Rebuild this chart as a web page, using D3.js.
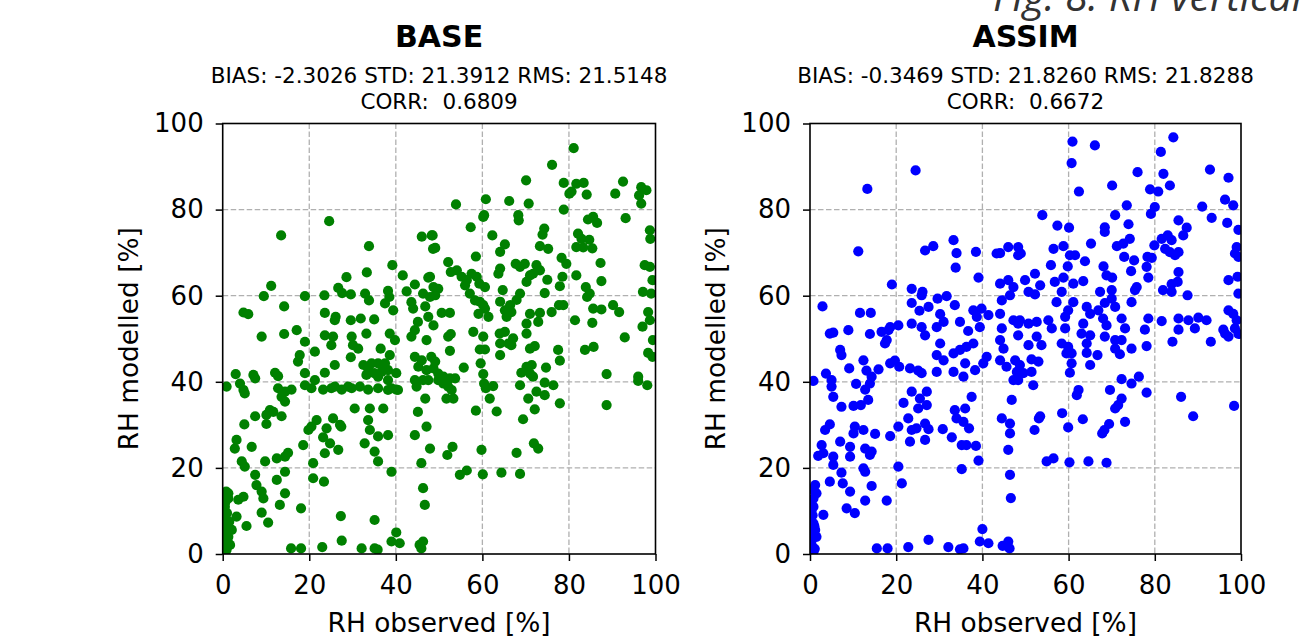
<!DOCTYPE html>
<html>
<head>
<meta charset="utf-8">
<script src="https://cdn.jsdelivr.net/npm/d3@7"></script>
<style>
  body { margin: 0; background: #fff; }
  svg { display: block; }
  text { font-family: "DejaVu Sans", sans-serif; }
</style>
</head>
<body>
<svg id="chart"></svg>
<script>
// axis ticks shared by both panels
const axisTicks = [0, 20, 40, 60, 80, 100];

const panelTitles = ["BASE", "ASSIM"];
const panelStats = [
  ["BIAS: -2.3026 STD: 21.3912 RMS: 21.5148", "CORR:  0.6809"],
  ["BIAS: -0.3469 STD: 21.8260 RMS: 21.8288", "CORR:  0.6672"]
];
const panelColors = ["#008000", "#0000ff"];

// [RH observed, RH modelled] pairs
const basePoints = [
  [24.6,77.3],[13.5,74],[33.8,71.5],[39.2,67.1],[33.3,65.4],[28.6,64.3],[41.6,64.7],[46,73.7],[48.3,74],[48.6,70.9],
  [47.5,64.2],[44.4,62.6],[11.2,62.3],[9.5,59.9],[19,59.9],[23.5,60.1],[26.7,61.8],[27.6,60.6],[29.6,60.3],[32.9,60.5],
  [33.8,58.9],[38.2,61.1],[38.5,59.7],[14.2,57.5],[4.8,56.1],[5.9,55.7],[23.6,56],[26.1,55.1],[25.9,54.3],[29.6,54.3],
  [31.9,54.7],[35,54.5],[37.5,58.2],[39.4,56.6],[43.6,58.5],[44,57],[45.1,53.9],[46.3,60.5],[47.5,55.1],[42.5,61],[46.8,57.5],
  [81.1,94.3],[76.1,90.4],[70.1,86.8],[78.8,86.2],[81.7,86],[83.4,86.2],[80.1,83.7],[80.6,84.2],[84.1,83.5],[92.5,86.5],
  [90.7,83.7],[96.7,85.2],[97.9,84.5],[96.2,83.3],[96.7,81.4],[53.9,81.2],[60.8,82.4],[66.2,82],[70.7,81.4],[78.8,80],
  [60.4,78.7],[60.2,78.3],[68.3,78.7],[68.4,77.5],[57.3,75.9],[84.4,77.7],[85.6,78.3],[86.5,76.9],[93.1,78],[48.5,74],
  [49.1,71.1],[62.3,74],[74.3,75.6],[73.9,74.2],[65.2,71.9],[64.1,70.2],[73.3,71.5],[75.2,70.9],[82.1,74.4],[82.9,73.2],
  [84.7,73],[81.7,71.3],[83.3,71.2],[85.4,71],[98.7,75.2],[98.8,73.2],[58.5,69.1],[52.1,67.8],[52.7,65.5],[54.1,65.9],
  [55.2,64.4],[56.4,63.6],[57.5,65.1],[56,62.4],[58.7,64.4],[59.3,62.8],[60.6,62],[57.1,60.5],[58.3,58.9],[64.1,66.3],
  [63.7,65.1],[64.7,61.3],[67.7,67.4],[68.7,66.7],[69.8,67.4],[70.2,63.2],[71,64.7],[72.5,67.1],[73.3,65.9],[71.7,65.1],
  [75,63.7],[78.3,68.8],[79.4,67.4],[78.5,64.4],[77.9,62.2],[81.7,64.7],[83.9,62],[84.8,60.5],[84.2,59.7],[87.3,67.6],
  [87.5,63.4],[97.5,67.1],[98.7,66.7],[99.3,63.6],[97.1,60.9],[99,60.5],[47.9,64.4],[48.7,62],[49.8,61.6],[47.9,59.7],
  [49.1,60.1],[59.4,58.6],[60.6,57],[59.1,55.8],[61.4,55.1],[60.2,57.8],[64.1,58.6],[65.2,56.6],[66.4,57.8],[67.9,59],
  [68.7,60.5],[66.7,56.2],[65.6,55.1],[71,55.8],[73.3,56],[70.2,53.5],[72.9,53.9],[74.4,60.6],[76,56.2],[77.7,57.8],
  [78.7,57.8],[50.6,56],[52.5,56],[81.4,54.3],[85.4,53.7],[85.6,57],[87.5,56.8],[90.2,57.8],[91.6,56.2],[97,52.8],
  [98.3,56.2],[98.7,54.3],[48.7,53.1],
  [52.1,50.5],[52.7,51.1],[57.9,51.6],[60.2,50.5],[59.4,47.5],[60.6,47.5],[64,51.2],[65.2,51.6],[64.1,48.9],[66,48.9],
  [67.1,50.1],[66.7,48.5],[64.1,46.2],[70.2,51.2],[71,47.7],[72.1,48.3],[77.5,47.4],[77.9,44.9],[83.7,47.4],[85.7,48.1],
  [92.9,50.3],[99.4,49.7],[98.3,46.7],[99.3,45.8],[52.5,47.2],[49.1,44.7],[48.7,43.1],[49.8,41.9],[51,41.2],[49.8,40.4],
  [52.5,40.8],[53.7,40.8],[51,39.6],[52.1,38.9],[52.9,38.1],[51.7,36.1],[53.3,36.1],[55.7,43.3],[59.6,44.3],[60.2,41.8],
  [60.4,39.6],[60.8,38.5],[61.7,36.1],[62.5,39],[58.5,33.3],[63.3,33.1],[69,42.1],[70.2,43.5],[71.4,43.9],[71,41.9],
  [71.7,41.2],[74.7,43.3],[68.7,39.2],[74.4,39.8],[76.4,39.2],[72.5,37.7],[74.4,36.9],[70.6,36.1],[77.9,35],[72.1,33.6],
  [69.4,31.3],[88.7,41.8],[88.7,34.6],[96,41.2],[96,40.2],[98.1,39.2],[47.9,24.5],[53.1,24.9],[51.9,23],[59.8,24.2],
  [67.9,23.5],[71.9,25.7],[72.9,24.5],[54.8,18.4],[56.4,19.4],[60.1,18.5],[64.4,18.9],[68.7,18.6],
  [9,50.5],[14.2,51.1],[17.1,52],[19,49.3],[21.3,47],[17.8,46.2],[17.4,44.7],[19,42],[23.6,50.8],[25.5,50.5],
  [25.1,48.5],[29.8,50.5],[30.1,48.5],[31.3,47.7],[33.2,51.2],[29.6,45.7],[36.5,47.7],[37.5,44.3],[38.6,46.2],[35.9,44.3],
  [39.8,49.7],[38.6,51.2],[25.9,43.9],[23.6,42.1],[32.5,43.9],[33.6,43.1],[34.4,44.3],[35,42],[36.7,42.3],[38.2,42.7],
  [40.1,42],[33.2,41.6],[35.9,41.2],[38.2,40.4],[39,38.5],[40.5,38.1],[44.4,45.8],[46,45],[45.2,43.5],[47.1,42.7],
  [44.4,40.4],[46.3,40.4],[44.8,38.9],[47.5,40.4],[48.2,45.8],[43.6,50.5],[47.1,49.7],[44.4,52],[3,41.8],[7.1,41.6],
  [7.5,40.8],[12.1,42.1],[12.8,41.3],[0.9,38.9],[4,39.6],[5.1,37.3],[4.8,38.1],[12.8,38.5],[14.4,37.7],[15.9,38.2],
  [13.6,36.5],[14.4,35.4],[19,39.2],[20.5,38.5],[21.3,40.4],[23.2,38.2],[25.1,38.5],[25.9,38.9],[27.5,38.2],[29,38.9],
  [29.8,38.5],[31.7,38.9],[33.6,38.2],[35.9,38.5],[38.2,38.1],[40.1,38.2],[46.8,36.1],[45.1,33],[47.1,29.6],[44.4,27.6],
  [30.5,33.8],[34,33.8],[37.1,33.8],[7.5,32],[10.9,33.4],[11.7,33],[10.1,32.3],[13.6,32],[10.1,30.2],[5,30.1],
  [21.7,31.1],[20.5,29.6],[19.8,28.8],[24,29.2],[23.2,27.1],[25.5,31.5],[27.1,30],[27.4,29.6],[24.8,25.7],[26.7,24.2],
  [23.6,23.4],[33.6,31.1],[34,28.8],[35.9,27.3],[38.2,27.6],[32.8,25.7],[35.1,23.8],[35.9,21.5],[3.2,26.5],[2.8,24.5],
  [6.7,24.9],[9.8,21.5],[12.5,22.2],[14.4,22.6],[15.1,23.5],[18.6,25.3],[4.4,21.5],[5.1,20.3],[7.5,18.4],[7.8,16],
  [9,14.5],[9.4,12.9],[12.5,17.2],[14.4,19.1],[14.4,14.1],[20.9,21.1],[20.9,17.6],[23.4,16.8],[39,19.1],[46.3,15.3],
  [46.7,11.4],[45.9,21.1],[1.3,14.1],[1.3,12.9],[4.8,13.3],[3.6,12.6],[3.2,8.7],[5.5,6.5],[9,9.6],[10.5,7.3],
  [13.2,11.4],[18.1,10.6],[27.3,8.8],[35.1,7.9],[0.5,8.7],[0.9,6.4],[1.3,4],[1.7,2.1],[0.5,2.5],[0.9,1],
  [2.1,5.6],[0.5,11],[0.3,13.5],[0.6,12],[0.2,10],[1,9.5],[0.4,7.5],[0.7,5],[0.3,3.5],[1.1,3],
  [0.2,0.5],[0.6,0.3],[1.5,7.5],[0.8,14.5],
  [15.8,1.3],[18.1,1.3],[23,1.6],[27.5,3.1],[32.1,1.3],[35.1,1.3],[35.8,1],[39,2.9],[40.1,5],[40.9,2.5],
  [45.5,2.1],[46.3,2.9],[45.9,1.3]
];

const assimPoints = [
  [24.5,89.1],[13.3,84.8],[11.2,70.3],[33.3,72.9],[34,69.9],[33.8,66.5],[26.7,70.5],[28.6,71.5],[38.5,70.2],[43.3,69.8],
  [44.1,69.9],[46,71.3],[48.3,71.3],[48.3,69.4],[39.1,64.2],[19,62.6],[23.6,61.6],[26.1,60.9],[25.9,60.1],[44.1,62.8],
  [46,63.6],[47.2,62],[44.5,58.9],[46.4,60.1],[2.9,57.5],[11.6,56],[14.1,56],[23.6,58.3],[25.4,56.5],[27.5,57.4],
  [29.6,59.3],[31.7,59.9],[33.6,57.8],[30.2,55.7],[31,53.9],[29.4,52.7],[34.8,53.9],[36.7,51.8],[37.9,56.6],[39.8,57],
  [38.7,55.1],[41.4,55.5],[39.4,52.7],[44.1,55.8],[44.5,52.4],[47.2,54.3],[48.3,53.5],[18.6,52.7],[20.5,53.1],[23.6,53.5],
  [25.9,52.7],
  [60.9,95.8],[60.7,90.8],[66.1,94.9],[84.3,96.8],[81.4,93.4],[76,88.7],[82,88.3],[83.5,85.6],[92.8,89.3],[97.1,87.4],
  [70.1,85.6],[62.4,84.2],[78.9,84.7],[80.8,84.2],[96.3,82.3],[98.2,81],[73.5,81],[80,80.6],[79.1,79],[91,80.7],
  [93.2,78.1],[96.8,76.9],[53.9,78.7],[70.8,78.7],[57.4,76.3],[60.1,75.8],[68.4,75.9],[68.4,74.8],[73.9,76.6],[85.5,77.5],
  [87.4,75.8],[86.6,74],[83,74],[83.9,72.9],[81.6,73.2],[99.4,75.3],[99,71.3],[98.6,69.8],[99.4,69],[48.9,69.8],
  [56.5,70.9],[58.8,71.5],[60.3,69.4],[61.5,69.4],[63.8,68],[65.2,72.1],[71.2,71.5],[72.7,72.1],[74.2,73.2],[72.9,69],
  [75.2,68.2],[74.5,65.7],[78.3,69],[79.3,68.8],[78.1,66.7],[78.5,64.2],[79.9,71.7],[82.4,70.9],[83.5,70.1],[84.7,69.4],
  [85.5,70.1],[85.5,65.5],[85.3,63.2],[83.9,62.7],[97.1,63.6],[99.2,64.4],[55.9,67.1],[59.8,66.8],[68.1,66.8],[68.8,64.7],
  [70.1,64.2],[52.2,65.1],[53.4,62.4],[49.9,63.6],[50.7,60.9],[52.2,60.3],[56.8,63.2],[58.8,64.2],[61.1,62.8],[63.4,63.4],
  [58.4,60.9],[57.2,58.5],[61.1,58.5],[59.9,56.6],[59.2,55.1],[67.3,60.9],[70,61.3],[70,59.3],[68.4,58.3],[70.8,57.4],
  [64.2,57.4],[65,55.8],[66.9,56.6],[68,54.7],[68.8,53.1],[72.3,54.7],[73.1,52.4],[74.6,58.5],[75.4,61.3],[75.8,62],
  [81.9,61.3],[83.9,60.9],[87.6,60.1],[78.5,54.7],[81.6,54.1],[77.7,52.1],[85.5,54.7],[87.8,54.3],[90.1,54.9],[92,54.3],
  [85.5,52.1],[89.3,52.4],[97.1,56.6],[98.2,55.8],[99,54.3],[95.9,52.1],[98.6,52.4],[99.4,60.5],[48.7,54.3],[50.7,53.5],
  [52.6,53.9],[56.1,52.4],[59.2,52.4],[63.4,53.5],[55.3,54.3],
  [4.6,51.2],[5.4,51.4],[8.9,52],[13.9,51.1],[16.6,51.6],[18.2,52],[17.4,48.9],[17.8,49.7],[7,47.4],[7.3,46.2],
  [9.1,43.1],[12.4,45],[13.1,42.6],[15.9,42.9],[14.3,41.2],[13.9,39.6],[12.8,38.2],[3.7,41.9],[5,40.4],[5,38.9],
  [0.8,40.2],[5.4,36.5],[10.7,39.5],[18.6,44.3],[19.7,44.9],[20.7,43.5],[23.2,43.1],[25.1,42.6],[25.9,42],[26.7,50.8],
  [30.2,48.9],[29.4,46.2],[31,45],[33.3,46.6],[34.8,47.4],[36.3,48.1],[37.9,48.9],[36,44.3],[38.3,42.7],[29.4,42.3],
  [33.3,42.3],[35.6,41.2],[40.2,44.3],[41,45.8],[44.1,49.7],[44.9,47.7],[44.1,45],[45.6,43.5],[48,42.3],[47.2,40.4],
  [7.3,34.2],[10.1,34.4],[11.8,34.6],[13.5,35.8],[21.7,35.1],[23.6,37.7],[25.5,36.1],[25.1,33.8],[27.1,37.7],[27.1,34.6],
  [37.5,36.5],[33.6,33.4],[36,33.8],[34,31.5],[35.6,30.7],[46.8,35.8],[44.5,31.5],[46.4,30.3],[46.4,28],[4.6,30.1],
  [3.5,28.8],[10.4,29.6],[12.4,28.8],[10.1,28],[15.1,27.9],[18.6,27.4],[20.5,29.6],[22.8,31.5],[23.6,28.8],[24.7,29.2],
  [26.7,30.3],[27.5,29],[26.7,26.5],[23.2,26.1],[30.8,29],[32.9,27.1],[35.2,25.3],[36.3,25.3],[38.5,25.1],[36.9,29.2],
  [7,26.1],[2.7,25.3],[3.1,23.4],[1.9,22.8],[5.4,22.6],[5.4,20.7],[9.3,24.9],[9.3,22.6],[12.8,24.5],[14.3,23.8],
  [13.9,23],[12.4,19.9],[12.8,19.1],[7.3,18.9],[4.6,16.8],[7.6,16.4],[9.3,14.5],[14.3,15.8],[12.8,12.4],[8.5,10.6],
  [10.4,9.5],[3.1,9.1],[17.8,12.4],[20.5,20.3],[21.3,16.4],[35.2,19.7],[39.1,21.7],[46,24.2],[46.4,18.4],[46.6,13],
  [1.2,16],[1.5,14.1],[0.8,12.9],[0.4,10.2],[0.8,7.1],[1.2,5.6],[1.5,4],[0.4,1.7],[0.8,0.6],[0,3.3],
  [0.3,12],[0.6,9],[0.2,8],[1,6.5],[0.5,5],[0.3,2.5],[1.1,1.2],[0.5,15],[0.8,11],[0.2,0.4],
  [15.5,1.3],[18,1.3],[22.8,1.6],[27.5,3.3],[32.1,1.6],[34.8,1.1],[35.6,1.3],[39.4,2.9],[40,5.8],[41.4,2.5],
  [46,2.9],[46.3,1.3],[44.7,1.9],
  [48.3,50.8],[50.7,48.5],[52.6,50.5],[53.7,48.5],[47.6,45],[48.7,43.9],[51.4,45.2],[53,44.7],[51.4,42.3],[49.5,42],
  [48.3,40.4],[51.8,39.2],[58.4,48.9],[59.5,46.6],[60.7,46.6],[60.7,44.3],[60.3,42.1],[59.9,48.1],[64.2,48.9],[64.2,46.7],
  [65,43.9],[66.7,46.2],[63,51.2],[65,50.8],[68.4,50.5],[70.8,49.7],[72.3,49.7],[70.8,47.7],[71.9,46.4],[74.6,47.7],
  [78.1,48.3],[84.1,49.3],[93,49.3],[96.3,51.2],[97.1,50.5],[99.4,51.1],[72.3,40.6],[74.6,39.6],[76.3,41.2],[78.1,37.5],
  [69.6,38.1],[62.3,38.1],[61.9,36.9],[72.3,36.1],[71.5,34.6],[70.8,33.8],[86.1,36.5],[88.9,32],[98.4,34.4],[53.4,32],
  [53.1,31.5],[58.5,32.7],[59.9,29.4],[63.3,31.3],[52.1,28.8],[69.4,30.2],[68.3,28.8],[67.8,28],[73.1,30.7],[54.9,21.5],
  [56.5,22.2],[60.2,21.3],[64.6,21.5],[68.8,21.2]
];

const W = 1315, H = 637;
const svg = d3.select("#chart").attr("width", W).attr("height", H);

// pixel frames of the two panels
const panels = [
  { left: 222.7, right: 655.5, points: basePoints },
  { left: 810, right: 1241, points: assimPoints }
];
const plotTop = 123.5, plotBottom = 554;

panels.forEach((p, i) => {
  const x = d3.scaleLinear().domain([0, 100]).range([p.left, p.right]);
  const y = d3.scaleLinear().domain([0, 100]).range([plotBottom, plotTop]);
  const cx = (p.left + p.right) / 2;
  const g = svg.append("g");

  // grid
  g.append("g")
    .selectAll("line")
    .data(axisTicks.slice(1, -1))
    .join("line")
    .attr("x1", d => x(d)).attr("x2", d => x(d))
    .attr("y1", plotTop).attr("y2", plotBottom)
    .attr("stroke", "#b0b0b0").attr("stroke-width", 1.3)
    .attr("stroke-dasharray", "5.5,2.5");
  g.append("g")
    .selectAll("line")
    .data(axisTicks.slice(1, -1))
    .join("line")
    .attr("y1", d => y(d)).attr("y2", d => y(d))
    .attr("x1", p.left).attr("x2", p.right)
    .attr("stroke", "#b0b0b0").attr("stroke-width", 1.3)
    .attr("stroke-dasharray", "5.5,2.5");

  // points (clipped at the frame, like matplotlib)
  const clipId = "clip" + i;
  svg.append("clipPath").attr("id", clipId)
    .append("rect")
    .attr("x", p.left).attr("y", plotTop)
    .attr("width", p.right - p.left).attr("height", plotBottom - plotTop);

  g.append("g")
    .attr("clip-path", `url(#${clipId})`)
    .selectAll("circle")
    .data(p.points)
    .join("circle")
    .attr("cx", d => x(d[0]))
    .attr("cy", d => y(d[1]))
    .attr("r", 5.1)
    .attr("fill", panelColors[i]);

  // axes
  const xAxis = g.append("g")
    .attr("transform", `translate(0,${plotBottom})`)
    .call(d3.axisBottom(x).tickValues(axisTicks).tickSize(7).tickPadding(15));
  const yAxis = g.append("g")
    .attr("transform", `translate(${p.left},0)`)
    .call(d3.axisLeft(y).tickValues(axisTicks).tickSize(7).tickPadding(12));
  [xAxis, yAxis].forEach(a => {
    a.select(".domain").remove();
    a.selectAll(".tick line").attr("stroke", "#000").attr("stroke-width", 1.5);
    a.selectAll(".tick text")
      .attr("fill", "#000")
      .style("font-family", "DejaVu Sans")
      .style("font-size", "26px");
  });

  // frame
  g.append("rect")
    .attr("x", p.left).attr("y", plotTop)
    .attr("width", p.right - p.left).attr("height", plotBottom - plotTop)
    .attr("fill", "none").attr("stroke", "#000").attr("stroke-width", 1.6);

  // titles
  g.append("text")
    .attr("x", cx).attr("y", 47)
    .attr("text-anchor", "middle")
    .style("font-size", "30px").style("font-weight", "bold")
    .text(panelTitles[i]);
  panelStats[i].forEach((line, k) => {
    g.append("text")
      .attr("x", cx).attr("y", 83 + k * 26)
      .attr("text-anchor", "middle")
      .attr("xml:space", "preserve")
      .style("white-space", "pre")
      .style("font-size", "21.5px")
      .text(line);
  });

  // axis labels
  g.append("text")
    .attr("x", cx).attr("y", 632)
    .attr("text-anchor", "middle")
    .style("font-size", "26.4px")
    .text("RH observed [%]");
  g.append("text")
    .attr("transform", `translate(${p.left - 85},${(plotTop + plotBottom) / 2}) rotate(-90)`)
    .attr("text-anchor", "middle")
    .style("font-size", "26.4px")
    .text("RH modelled [%]");
});

// caption, its top cut off by the page edge as in the source
svg.append("text")
  .attr("x", 993).attr("y", 11)
  .style("font-family", "'Open Sans', sans-serif")
  .style("font-style", "italic")
  .style("font-size", "41px")
  .attr("fill", "#333")
  .text("Fig. 8: RH vertical");
</script>
</body>
</html>
